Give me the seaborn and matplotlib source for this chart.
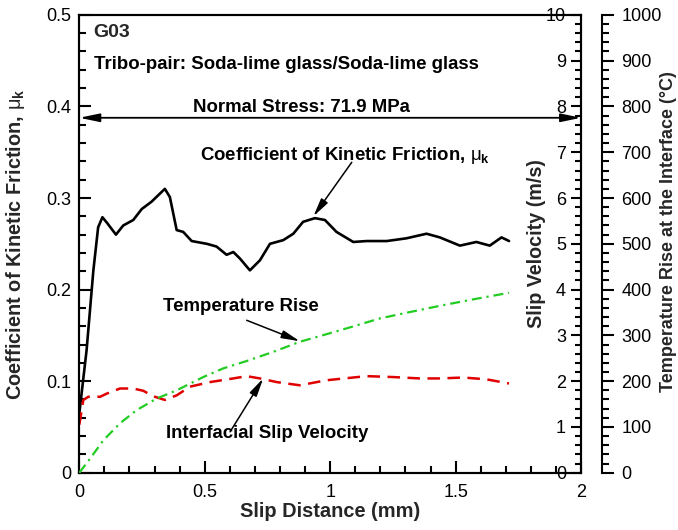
import matplotlib
matplotlib.use("Agg")
import matplotlib.pyplot as plt
from matplotlib.ticker import FormatStrFormatter
import seaborn as sns

# slip distance (mm) and coefficient of kinetic friction
fric_x = [0, 0.029, 0.056, 0.075, 0.092, 0.11, 0.146, 0.175, 0.215, 0.249, 0.288,
          0.341, 0.361, 0.388, 0.414, 0.448, 0.508, 0.547, 0.587, 0.614, 0.640,
          0.680, 0.720, 0.760, 0.813, 0.853, 0.892, 0.939, 0.979, 1.025, 1.092,
          1.145, 1.225, 1.304, 1.384, 1.437, 1.517, 1.583, 1.636, 1.683, 1.713]
fric_mu = [0.065, 0.134, 0.221, 0.268, 0.279, 0.273, 0.260, 0.270, 0.276, 0.288, 0.296,
           0.310, 0.301, 0.265, 0.263, 0.253, 0.250, 0.247, 0.238, 0.241, 0.234,
           0.221, 0.232, 0.250, 0.254, 0.261, 0.274, 0.278, 0.276, 0.263, 0.252,
           0.253, 0.253, 0.256, 0.261, 0.257, 0.248, 0.252, 0.248, 0.257, 0.253]

# interfacial slip velocity (m/s)
vel_x = [0, 0.016, 0.036, 0.083, 0.110, 0.162, 0.215, 0.255, 0.295, 0.341, 0.388,
         0.441, 0.521, 0.614, 0.667, 0.720, 0.787, 0.879, 0.985, 1.145, 1.251,
         1.357, 1.437, 1.530, 1.623, 1.713]
vel = [1.05, 1.59, 1.66, 1.66, 1.73, 1.84, 1.84, 1.79, 1.67, 1.59, 1.69,
       1.88, 1.98, 2.06, 2.11, 2.06, 1.98, 1.91, 2.02, 2.11, 2.09,
       2.06, 2.06, 2.08, 2.04, 1.95]

# temperature rise at the interface (deg C)
temp_x = [0, 0.043, 0.096, 0.162, 0.229, 0.308, 0.388, 0.494, 0.574, 0.667,
          0.773, 0.879, 1.039, 1.198, 1.318, 1.450, 1.583, 1.713]
temp = [0, 31, 71, 108, 137, 162, 180, 209, 228, 244,
        264, 286, 311, 337, 351, 366, 380, 393]

normal_stress_mu = 0.3876

sns.set_theme(style="ticks")
plt.rcParams["font.family"] = ["Liberation Sans", "DejaVu Sans"]
plt.rcParams["mathtext.fontset"] = "custom"
plt.rcParams["mathtext.rm"] = "Liberation Sans"
plt.rcParams["mathtext.bf"] = "Liberation Sans:bold"
plt.rcParams["mathtext.it"] = "Liberation Sans:italic"

fig = plt.figure(figsize=(6.78, 5.30), dpi=100)
ax = fig.add_axes([0.117, 0.108, 0.740, 0.864])
ax2 = ax.twinx()
ax3 = ax.twinx()

sns.lineplot(x=fric_x, y=fric_mu, ax=ax, color="black", linewidth=1.9,
             estimator=None)
sns.lineplot(x=vel_x, y=vel, ax=ax2, color="#e00000", linewidth=1.8,
             estimator=None)
ax2.lines[-1].set_dashes((5, 3))
sns.lineplot(x=temp_x, y=temp, ax=ax3, color="#22cc22", linewidth=1.6,
             estimator=None)
ax3.lines[-1].set_dashes((4.5, 2.2, 1, 2.2))

spine_w = 1.5

# labels and annotations first
ax.set_xlabel("Slip Distance (mm)", fontsize=14.4, fontweight="bold", labelpad=1)
ax.set_ylabel(r"Coefficient of Kinetic Friction, $\mathrm{\mu}_\mathbf{k}$",
              fontsize=14.4, fontweight="bold")
ax.yaxis.set_label_coords(-0.105, 0.5)
ax2.set_ylabel("Slip Velocity (m/s)", fontsize=14.2, fontweight="bold")
ax2.yaxis.set_label_coords(0.892, 0.5)
ax3.set_ylabel("Temperature Rise at the Interface (°C)", fontsize=13,
               fontweight="bold")
ax3.yaxis.set_label_coords(1.158, 0.527)

text_kw = dict(fontsize=13.4, fontweight="bold", color="black")
arrow_kw = dict(arrowstyle="-|>,head_length=1.1,head_width=0.24",
                color="black", lw=1.1, shrinkA=0, shrinkB=0, mutation_scale=10)

ax.text(0.055, 0.481, "G03", fontsize=14, fontweight="bold", va="center")
ax.text(0.058, 0.446, "Tribo-pair: Soda-lime glass/Soda-lime glass",
        va="center", **text_kw)
ax.text(0.886, 0.399, "Normal Stress: 71.9 MPa", ha="center", va="center",
        **text_kw)
ax.annotate("", xy=(0, normal_stress_mu), xytext=(2, normal_stress_mu),
            arrowprops=dict(arrowstyle="<|-|>,head_length=1.2,head_width=0.25",
                            color="black", lw=1.3, shrinkA=0, shrinkB=0,
                            mutation_scale=10))

ax.text(1.059, 0.3465, r"Coefficient of Kinetic Friction, $\mathrm{\mu}_\mathbf{k}$",
        ha="center", va="center", **text_kw)
ax.annotate("", xy=(0.933, 0.280), xytext=(1.086, 0.339), arrowprops=arrow_kw)

ax.text(0.642, 0.181, "Temperature Rise", ha="center", va="center", **text_kw)
ax.annotate("", xy=(0.879, 0.1436), xytext=(0.667, 0.1665), arrowprops=arrow_kw)

ax.text(0.75, 0.043, "Interfacial Slip Velocity", ha="center", va="center",
        **text_kw)
ax.annotate("", xy=(0.733, 0.103), xytext=(0.601, 0.0447), arrowprops=arrow_kw)

for a in (ax, ax2, ax3):
    for s in a.spines.values():
        s.set_linewidth(spine_w)
        s.set_color("black")

# axes limits and ticks last
major_kw = dict(width=spine_w, color="black", labelcolor="black", labelsize=13)
minor_kw = dict(width=spine_w, color="black")

ax.set_xlim(0, 2)
ax.set_ylim(0, 0.5)
ax.set_xticks([0, 0.5, 1, 1.5, 2])
ax.set_xticks([i / 10 for i in range(21)], minor=True)
ax.set_yticks([0, 0.1, 0.2, 0.3, 0.4, 0.5])
ax.set_yticks([i / 50 for i in range(26)], minor=True)
ax.xaxis.set_major_formatter(FormatStrFormatter("%g"))
ax.yaxis.set_major_formatter(FormatStrFormatter("%g"))

ax2.set_ylim(0, 10)
ax2.set_yticks(range(11))
ax2.set_yticks([i / 5 for i in range(51)], minor=True)

ax3.set_ylim(0, 1000)
ax3.set_yticks(range(0, 1001, 100))
ax3.set_yticks(range(0, 1001, 20), minor=True)
ax3.spines["right"].set_position(("axes", 1.041))
for side in ["left", "top", "bottom"]:
    ax3.spines[side].set_visible(False)

ax.tick_params(axis="x", which="major", direction="in", length=8.4, pad=8,
               bottom=True, top=False, **major_kw)
ax.tick_params(axis="x", which="minor", direction="in", length=4.8,
               bottom=True, top=False, **minor_kw)
ax.tick_params(axis="y", which="major", direction="in", length=8.4, pad=5.5,
               left=True, right=False, **major_kw)
ax.tick_params(axis="y", which="minor", direction="in", length=4.8,
               left=True, right=False, **minor_kw)
ax2.tick_params(axis="y", which="major", direction="in", length=7.2, pad=-10.8,
                right=True, **major_kw)
ax2.tick_params(axis="y", which="minor", direction="in", length=4.0,
                right=True, **minor_kw)
ax3.tick_params(axis="y", which="major", direction="out", length=8.4, pad=6,
                right=True, **major_kw)
ax3.tick_params(axis="y", which="minor", direction="out", length=4.8,
                right=True, **minor_kw)
plt.setp(ax2.get_yticklabels(), ha="right")

fig.savefig("out.png", dpi=100)
